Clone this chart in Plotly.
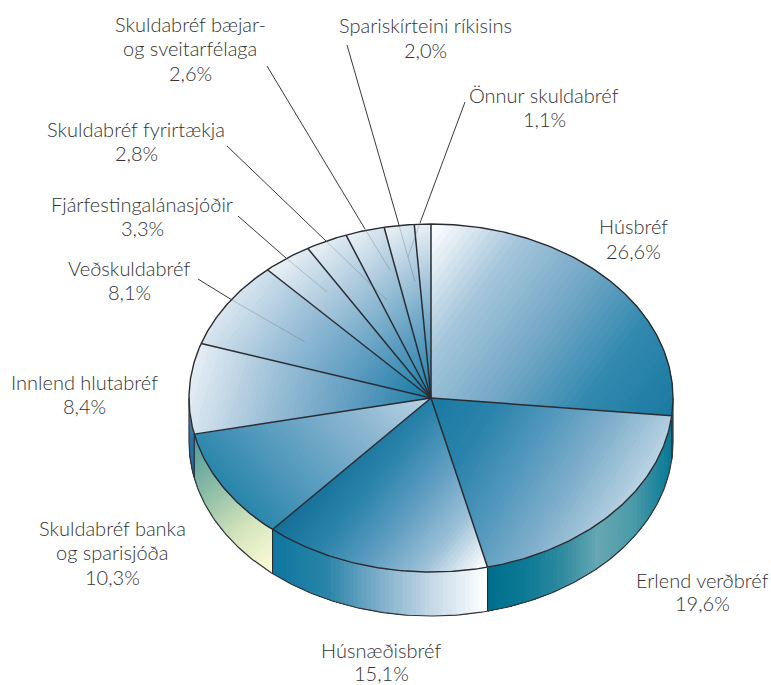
import math
import plotly.graph_objects as go

# ---------- data ----------
categories = ["Húsbréf", "Erlend verðbréf", "Húsnæðisbréf", "Skuldabréf banka og sparisjóða",
              "Innlend hlutabréf", "Veðskuldabréf", "Fjárfestingalánasjóðir", "Skuldabréf fyrirtækja",
              "Skuldabréf bæjar- og sveitarfélaga", "Spariskírteini ríkisins", "Önnur skuldabréf"]
shares = [26.6, 19.6, 15.1, 10.3, 8.4, 8.1, 3.3, 2.8, 2.6, 2.0, 1.1]
label_lines = [["Húsbréf", "26,6%"], ["Erlend verðbréf", "19,6%"], ["Húsnæðisbréf", "15,1%"],
               ["Skuldabréf banka", "og sparisjóða", "10,3%"], ["Innlend hlutabréf", "8,4%"],
               ["Veðskuldabréf", "8,1%"], ["Fjárfestingalánasjóðir", "3,3%"],
               ["Skuldabréf fyrirtækja", "2,8%"], ["Skuldabréf bæjar-", "og sveitarfélaga", "2,6%"],
               ["Spariskírteini ríkisins", "2,0%"], ["Önnur skuldabréf", "1,1%"]]

# ---------- layout of the drawing ----------
W, H = 771, 685
CX, CY, RX, RY, DEPTH = 431, 398, 242, 174, 44
label_x = [633, 702, 381, 112, 84, 129, 142, 136, 190, 425, 544]
label_y = [[226, 251], [580, 603], [650, 673], [528, 552, 577], [382, 406], [268, 292],
           [204, 228], [129, 153], [24, 48, 73], [25, 50], [95, 119]]
FONT = dict(family="Lato", size=20, color="#333335", weight=300)

DARK = "#1b7ea8"
# gradient direction (px vector) and colour stops for each top slice
top_dirs = [(1, .75), (1, .62), (1, .8), (-.75, .66), (1, .3), (.8, .6), (.7, .7), (.7, .7), (.7, .7), (.6, .8), (.3, 1)]
small_stops = ["#eaf1f6", "#a6c6db", "#5f9fc2", "#1f7ea7"]
top_stops = [["#ffffff", "#a6c6db", "#74a8c7", "#3289b0", "#1c7aa2"],
             ["#1a7aa3", "#2a83ab", "#5398bd", "#82b0cc", "#b8d2e3"],
             ["#146f98", "#2a83ab", "#5e9dc0", "#9cc0d7", "#ffffff"],
             ["#b9d3e4", "#8ab5cf", "#5a9dc0", "#2a86ab"],
             ["#e4edf4", "#9fc1d8", "#659fc2", "#2280a8"],
             ["#d8e5ef", "#97bdd6", "#5c9cc0", "#167aa4"]] + [small_stops] * 5

STRIPS = 48


def hex2rgb(h):
    return tuple(int(h[i:i + 2], 16) for i in (1, 3, 5))


def ramp(stops, t):
    p = t * (len(stops) - 1)
    i = min(int(p), len(stops) - 2)
    f = p - i
    a, b = hex2rgb(stops[i]), hex2rgb(stops[i + 1])
    return "rgb(%d,%d,%d)" % tuple(round(a[k] + (b[k] - a[k]) * f) for k in range(3))


def pt(deg, dy=0):
    r = math.radians(deg)
    return CX + RX * math.sin(r), CY - RY * math.cos(r) + dy


def arc(a0, a1, dy=0):
    n = max(3, int(abs(a1 - a0) * 1.5))
    return [pt(a0 + (a1 - a0) * i / n, dy) for i in range(n + 1)]


def clip(poly, d, level):
    out = []
    for i, p in enumerate(poly):
        q = poly[(i + 1) % len(poly)]
        sp = p[0] * d[0] + p[1] * d[1] - level
        sq = q[0] * d[0] + q[1] * d[1] - level
        if sp >= 0:
            out.append(p)
        if sp * sq < 0:
            f = sp / (sp - sq)
            out.append((p[0] + (q[0] - p[0]) * f, p[1] + (q[1] - p[1]) * f))
    return out


def gradient_fill(fig, poly, d, stops, name):
    proj = [p[0] * d[0] + p[1] * d[1] for p in poly]
    lo, hi = min(proj), max(proj)
    for k in range(STRIPS):
        part = clip(poly, d, lo + (hi - lo) * k / STRIPS) if k else poly
        if len(part) < 3:
            continue
        fig.add_trace(go.Scatter(x=[p[0] for p in part] + [part[0][0]],
                                 y=[p[1] for p in part] + [part[0][1]],
                                 mode="lines", fill="toself", line=dict(width=0),
                                 fillcolor=ramp(stops, k / (STRIPS - 1)),
                                 name=name, hoverinfo="skip", showlegend=False))


def outline(fig, xy, width=1.4, color="#2a2c33"):
    fig.add_trace(go.Scatter(x=[p[0] for p in xy], y=[p[1] for p in xy], mode="lines",
                             line=dict(width=width, color=color), hoverinfo="skip", showlegend=False))


fig = go.Figure()

# cumulative clockwise boundaries from the values
bounds = [0.0]
for s in shares:
    bounds.append(bounds[-1] + s * 3.6)
total_deg = bounds[-1]
bounds = [b * 360 / total_deg for b in bounds]

# sides (only the front half of the rim is visible)
side_styles = {
    0: ((0, 1), ["#2b7c9b", "#0e5f80"]),
    1: ((-1, 0), ["#0a7a97", "#4a9aa8", "#66a8b2", "#2f8aa0", "#0d7a95", "#006f8e"]),
    2: ((1, 0), ["#0f77a0", "#2a84a8", "#7fafca", "#c5d9e7", "#ffffff"]),
    3: ((.65, .75), ["#4f9a9c", "#8cbda6", "#d4e4bb", "#fdfdd9"]),
    4: ((0, 1), ["#8094c0", "#2f719f", "#1d6d98"]),
}
for i, (dv, st) in side_styles.items():
    a0, a1 = max(bounds[i], 90), min(bounds[i + 1], 270)
    poly = arc(a0, a1) + arc(a1, a0, DEPTH)
    gradient_fill(fig, poly, dv, st, categories[i])
for i in side_styles:
    a0, a1 = max(bounds[i], 90), min(bounds[i + 1], 270)
    if i > 0:
        outline(fig, [pt(a0), pt(a0, DEPTH)], 1.1)
outline(fig, arc(90, 270, DEPTH), 1.2, "#33353b")
outline(fig, [pt(90), pt(90, DEPTH)], 1.2, "#33353b")
outline(fig, [pt(270), pt(270, DEPTH)], 1.2, "#33353b")

# top slices
for i, name in enumerate(categories):
    poly = [(CX, CY)] + arc(bounds[i], bounds[i + 1])
    gradient_fill(fig, poly, top_dirs[i], top_stops[i], name)
for i in range(len(categories)):
    outline(fig, [(CX, CY), pt(bounds[i])], 1.5)
outline(fig, arc(0, 360), 1.4)

# leader lines: outside part dark, part over the slice faint
leader_outer = {5: ((198, 279), (232, 300)), 6: ((238, 216), (286, 258)), 7: ((227, 146), (326, 241)),
                8: ((267, 66), (365, 229)), 9: ((347, 45), (399, 225)), 10: ((465, 102), (420, 223))}
leader_inner = {5: (305, 342), 6: (327, 292), 7: (387, 300), 8: (390, 270), 9: (415, 282), 10: (408, 257)}
for i, (a, b) in leader_outer.items():
    outline(fig, [b, leader_inner[i]], 0.8, "rgba(90,100,115,0.4)")
    outline(fig, [a, b], 1.0, "#3a3a3c")

annotations = []
for i, lines in enumerate(label_lines):
    for txt, y in zip(lines, label_y[i]):
        annotations.append(dict(x=label_x[i], y=y, xref="x", yref="y", text=txt, showarrow=False,
                                xanchor="center", yanchor="middle", font=FONT))

fig.update_layout(width=W, height=H, margin=dict(l=0, r=0, t=0, b=0), paper_bgcolor="white",
                  plot_bgcolor="white", showlegend=False, annotations=annotations,
                  xaxis=dict(range=[0, W], visible=False, fixedrange=True),
                  yaxis=dict(range=[H, 0], visible=False, fixedrange=True))
fig.write_html("out.html", config=dict(displayModeBar=False),
               post_script="document.body.style.margin='0';document.body.style.overflow='hidden';")
